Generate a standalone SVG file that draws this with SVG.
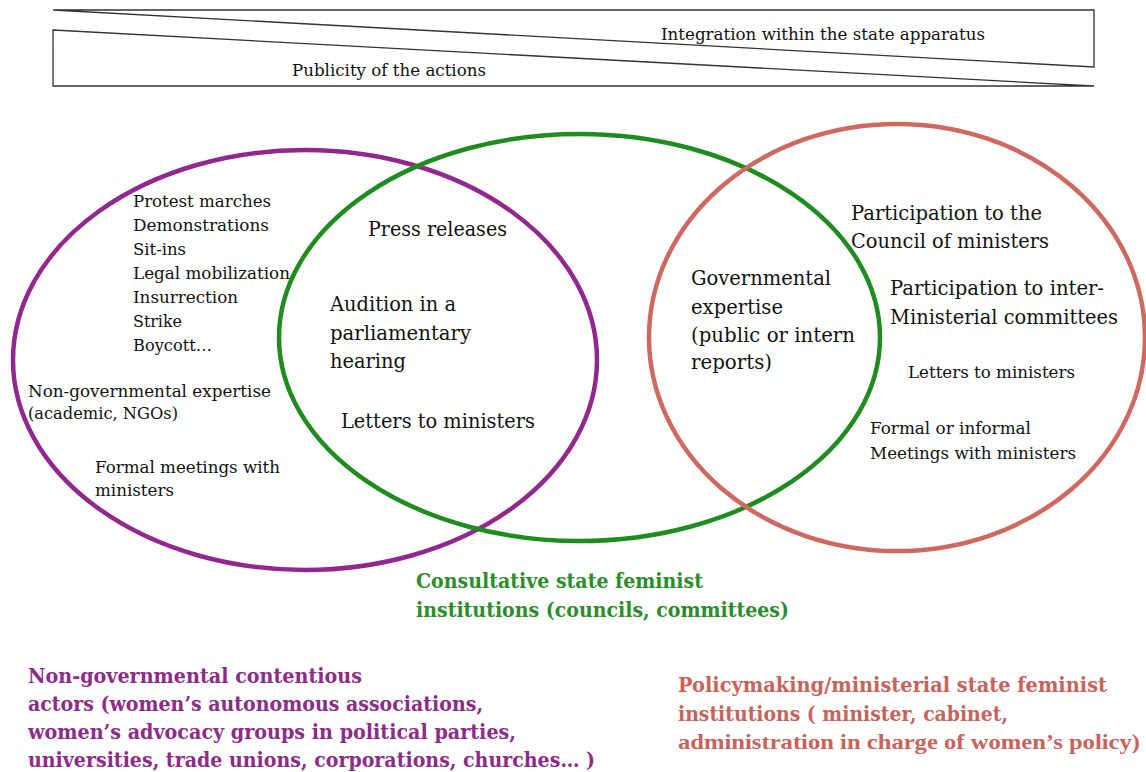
<svg xmlns="http://www.w3.org/2000/svg" width="1146" height="772" viewBox="0 0 1146 772">
  <style>
    .wedge { fill: #fff; stroke: #333; stroke-width: 1.3; stroke-linejoin: miter; }
    .set { fill: none; stroke-width: 4.5; }
    .t { font-family: "DejaVu Serif", "Liberation Serif", serif; fill: #111; }
    .s17 { font-size: 16.7px; }
    .s18 { font-size: 17.5px; }
    .s20 { font-size: 19.5px; }
    .lbl { font-family: "DejaVu Serif", "Liberation Serif", serif; font-weight: bold; font-size: 19.5px; }
    .lbl-narrow { font-family: "Liberation Serif", serif; font-weight: bold; font-size: 21px; }
  </style>

  <!-- gradient bars -->
  <g id="scales">
    <polygon class="wedge" points="53,10 1094,10 1094,67"/>
    <polygon class="wedge" points="53,30 1094,86 53,86"/>
    <text class="t s18" x="661" y="40" textLength="324" lengthAdjust="spacingAndGlyphs">Integration within the state apparatus</text>
    <text class="t s18" x="292" y="76" textLength="194" lengthAdjust="spacingAndGlyphs">Publicity of the actions</text>
  </g>

  <!-- sets -->
  <g id="sets">
    <ellipse id="set-ngo" class="set" cx="305" cy="360" rx="292" ry="210" stroke="#92278F"/>
    <ellipse id="set-consult" class="set" cx="579.5" cy="337.5" rx="300.5" ry="203.5" stroke="#1E8C1E"/>
    <ellipse id="set-policy" class="set" cx="897" cy="337.5" rx="248" ry="213.5" stroke="#CF685F"/>
  </g>

  <!-- repertoire of non-governmental actors -->
  <g id="ngo-actions" class="t s17">
    <text x="133" y="207" textLength="138" lengthAdjust="spacingAndGlyphs">Protest marches</text>
    <text x="133" y="231" textLength="136" lengthAdjust="spacingAndGlyphs">Demonstrations</text>
    <text x="133" y="255" textLength="53" lengthAdjust="spacingAndGlyphs">Sit-ins</text>
    <text x="133" y="279" textLength="157" lengthAdjust="spacingAndGlyphs">Legal mobilization</text>
    <text x="133" y="303" textLength="105" lengthAdjust="spacingAndGlyphs">Insurrection</text>
    <text x="133" y="327" textLength="49" lengthAdjust="spacingAndGlyphs">Strike</text>
    <text x="133" y="351" textLength="79" lengthAdjust="spacingAndGlyphs">Boycott…</text>
    <text x="28" y="397" textLength="243" lengthAdjust="spacingAndGlyphs">Non-governmental expertise</text>
    <text x="28" y="419" textLength="150" lengthAdjust="spacingAndGlyphs">(academic, NGOs)</text>
    <text x="95" y="473" textLength="185" lengthAdjust="spacingAndGlyphs">Formal meetings with</text>
    <text x="95" y="496" textLength="79" lengthAdjust="spacingAndGlyphs">ministers</text>
  </g>

  <!-- repertoire of consultative institutions -->
  <g id="consult-actions" class="t s20">
    <text x="368" y="236" textLength="139" lengthAdjust="spacingAndGlyphs">Press releases</text>
    <text x="330" y="311" textLength="126" lengthAdjust="spacingAndGlyphs">Audition in a</text>
    <text x="330" y="340" textLength="141" lengthAdjust="spacingAndGlyphs">parliamentary</text>
    <text x="330" y="368" textLength="76" lengthAdjust="spacingAndGlyphs">hearing</text>
    <text x="341" y="428" textLength="194" lengthAdjust="spacingAndGlyphs">Letters to ministers</text>
  </g>

  <!-- shared expertise -->
  <g id="gov-expertise" class="t s20">
    <text x="691" y="285" textLength="140" lengthAdjust="spacingAndGlyphs">Governmental</text>
    <text x="691" y="314" textLength="92" lengthAdjust="spacingAndGlyphs">expertise</text>
    <text x="691" y="342" textLength="164" lengthAdjust="spacingAndGlyphs">(public or intern</text>
    <text x="691" y="369" textLength="81" lengthAdjust="spacingAndGlyphs">reports)</text>
  </g>

  <!-- repertoire of policymaking institutions -->
  <g id="policy-actions" class="t">
    <text class="s20" x="851" y="220" textLength="191" lengthAdjust="spacingAndGlyphs">Participation to the</text>
    <text class="s20" x="851" y="248" textLength="198" lengthAdjust="spacingAndGlyphs">Council of ministers</text>
    <text class="s20" x="890" y="295" textLength="214" lengthAdjust="spacingAndGlyphs">Participation to inter-</text>
    <text class="s20" x="890" y="324" textLength="228" lengthAdjust="spacingAndGlyphs">Ministerial committees</text>
    <text class="s17" x="908" y="378" textLength="167" lengthAdjust="spacingAndGlyphs">Letters to ministers</text>
    <text class="s17" x="870" y="434" textLength="161" lengthAdjust="spacingAndGlyphs">Formal or informal</text>
    <text class="s17" x="870" y="459" textLength="206" lengthAdjust="spacingAndGlyphs">Meetings with ministers</text>
  </g>

  <!-- set captions -->
  <g id="caption-consult" class="lbl" fill="#2A8E2A">
    <text x="416" y="588" textLength="287" lengthAdjust="spacingAndGlyphs">Consultative state feminist</text>
    <text x="416" y="617" textLength="373" lengthAdjust="spacingAndGlyphs">institutions (councils, committees)</text>
  </g>
  <g id="caption-ngo" class="lbl" fill="#8E2A8A">
    <text x="28" y="683" textLength="334" lengthAdjust="spacingAndGlyphs">Non-governmental contentious</text>
    <text x="28" y="711" textLength="455" lengthAdjust="spacingAndGlyphs">actors (women’s autonomous associations,</text>
    <text x="28" y="739" textLength="488" lengthAdjust="spacingAndGlyphs">women’s advocacy groups in political parties,</text>
    <text x="28" y="767" textLength="567" lengthAdjust="spacingAndGlyphs">universities, trade unions, corporations, churches… )</text>
  </g>
  <g id="caption-policy" class="lbl" fill="#C9625A">
    <text x="678" y="692" textLength="429" lengthAdjust="spacingAndGlyphs">Policymaking/ministerial state feminist</text>
    <text x="678" y="721" textLength="330" lengthAdjust="spacingAndGlyphs">institutions ( minister, cabinet,</text>
    <text class="lbl-narrow" x="678" y="749" textLength="462" lengthAdjust="spacingAndGlyphs">administration in charge of women’s policy)</text>
  </g>
</svg>
